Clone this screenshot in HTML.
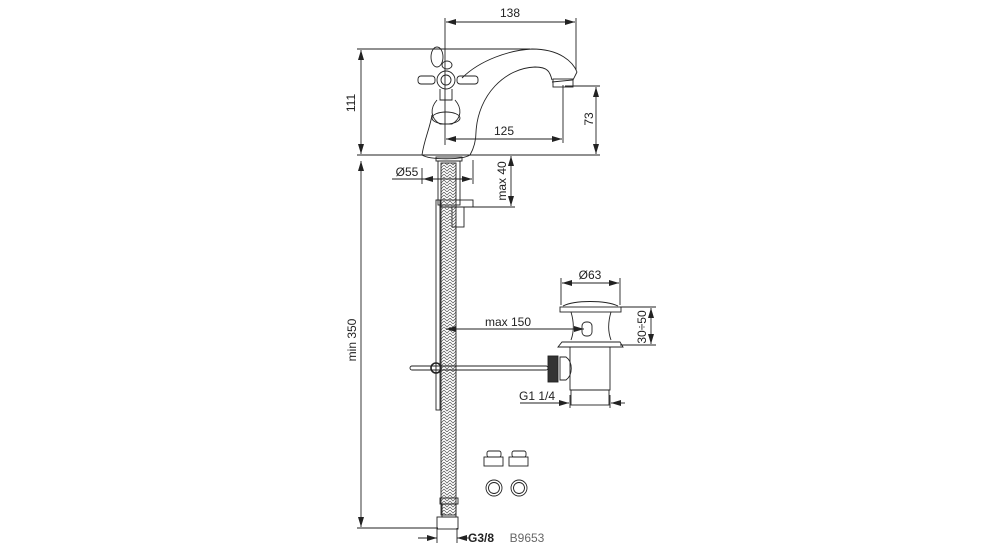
<!DOCTYPE html>
<html><head><meta charset="utf-8"><style>
html,body{margin:0;padding:0;background:#fff;width:1000px;height:550px;overflow:hidden}
text{font-family:"Liberation Sans",sans-serif;font-size:12px;fill:#222}
</style></head><body>
<svg width="1000" height="550" viewBox="0 0 1000 550" xmlns="http://www.w3.org/2000/svg">
<defs>
<marker id="a" viewBox="0 0 10 6" refX="10" refY="3" markerWidth="10" markerHeight="6" orient="auto-start-reverse" markerUnits="userSpaceOnUse"><path d="M0,0 L10,3 L0,6 z" fill="#222"/></marker>
<pattern id="br" width="6" height="6" patternUnits="userSpaceOnUse"><path d="M0,0 L3,3 L6,0 M0,3 L3,6 L6,3" stroke="#555" stroke-width="0.7" fill="none"/></pattern>
</defs>
<g stroke="#222" stroke-width="0.9" fill="none">
<line x1="357" y1="49" x2="530" y2="49"/>
<line x1="357" y1="155" x2="600" y2="155"/>
<line x1="361" y1="50" x2="361" y2="154" marker-start="url(#a)" marker-end="url(#a)"/>
<line x1="445" y1="18" x2="445" y2="145"/>
<line x1="576" y1="18" x2="576" y2="70"/>
<line x1="446" y1="22" x2="575" y2="22" marker-start="url(#a)" marker-end="url(#a)"/>
<line x1="563" y1="85" x2="563" y2="143"/>
<line x1="446" y1="139" x2="562" y2="139" marker-start="url(#a)" marker-end="url(#a)"/>
<line x1="565" y1="86" x2="600" y2="86"/>
<line x1="596" y1="87" x2="596" y2="154" marker-start="url(#a)" marker-end="url(#a)"/>
<path d="M422,155 C424,140 430,128 432,115"/>
<path d="M470,155 C474,148 476,140 476,132 C478,95 505,68 535,67 C548,67 550,72 552,80"/>
<path d="M462,78 C480,60 510,50 532,49 C560,49 573,62 577,72"/>
<path d="M577,72 L573,80 L552,82"/>
<rect x="553" y="79" width="20" height="8"/>
<path d="M422,155 C430,160 462,160 470,155"/>
<ellipse cx="437" cy="57" rx="6" ry="10"/>
<ellipse cx="447" cy="65" rx="5" ry="4"/>
<circle cx="446" cy="80" r="9"/><circle cx="446" cy="80" r="5"/>
<rect x="418" y="76" width="17" height="8" rx="3"/><rect x="457" y="76" width="21" height="8" rx="3"/>
<path d="M440,89 L440,100 L452,100 L452,89"/>
<path d="M437,100 C430,108 430,118 440,124 L452,124 C462,118 462,108 455,100"/>
<ellipse cx="446" cy="118" rx="14" ry="6"/>
<rect x="436" y="157" width="26" height="4"/>
<rect x="438" y="161" width="22" height="44"/>
<line x1="392" y1="179" x2="423" y2="179"/>
<line x1="423" y1="179" x2="472" y2="179" marker-start="url(#a)" marker-end="url(#a)"/>
<line x1="422" y1="168" x2="422" y2="184"/><line x1="473" y1="160" x2="473" y2="184"/>
<line x1="511" y1="156" x2="511" y2="206" marker-start="url(#a)" marker-end="url(#a)"/>
<line x1="440" y1="207" x2="515" y2="207"/>
<rect x="440" y="200" width="33" height="7"/>
<rect x="452" y="207" width="12" height="20"/>
<rect x="441" y="163" width="15" height="352" fill="url(#br)"/>
<rect x="436" y="200" width="4" height="210"/>
<rect x="440" y="498" width="18" height="6"/>
<rect x="442" y="504" width="14" height="13"/>
<rect x="437" y="517" width="21" height="12"/>
<line x1="361" y1="161" x2="361" y2="527" marker-start="url(#a)" marker-end="url(#a)"/>
<line x1="357" y1="528" x2="438" y2="528"/>
<line x1="418" y1="538" x2="437" y2="538" marker-end="url(#a)"/>
<line x1="470" y1="538" x2="457" y2="538" marker-end="url(#a)"/>
<line x1="437" y1="528" x2="437" y2="543"/><line x1="457" y1="528" x2="457" y2="543"/>
<line x1="561" y1="278" x2="561" y2="305"/><line x1="620" y1="278" x2="620" y2="305"/>
<line x1="562" y1="283" x2="619" y2="283" marker-start="url(#a)" marker-end="url(#a)"/>
<path d="M563,306 C575,300 605,300 618,306"/>
<rect x="560" y="307" width="61" height="5"/>
<path d="M571,312 C574,322 574,332 571,340 M611,312 C608,322 608,332 611,340"/>
<rect x="582" y="322" width="10" height="14" rx="4"/>
<line x1="446" y1="329" x2="584" y2="329" marker-start="url(#a)" marker-end="url(#a)"/>
<path d="M558,347 L562,342 L620,342 L623,347 Z"/>
<line x1="620" y1="307" x2="656" y2="307"/><line x1="620" y1="345" x2="656" y2="345"/>
<line x1="651" y1="308" x2="651" y2="344" marker-start="url(#a)" marker-end="url(#a)"/>
<rect x="570" y="347" width="40" height="43"/>
<rect x="571" y="390" width="38" height="15"/>
<path d="M560,357 L566,357 C573,362 573,375 566,380 L560,380 Z"/>
<rect x="548" y="356" width="10" height="26" fill="#333"/>
<rect x="410" y="366" width="138" height="4" rx="2"/>
<circle cx="436" cy="368" r="5" stroke-width="1.6"/>
<line x1="520" y1="403" x2="569" y2="403" marker-end="url(#a)"/>
<line x1="625" y1="403" x2="611" y2="403" marker-end="url(#a)"/>
<line x1="570" y1="395" x2="570" y2="408"/><line x1="610" y1="395" x2="610" y2="408"/>
<rect x="487" y="451" width="14" height="6" rx="2"/><rect x="484" y="457" width="19" height="9"/>
<rect x="512" y="451" width="14" height="6" rx="2"/><rect x="509" y="457" width="19" height="9"/>
<circle cx="494" cy="488" r="8"/><circle cx="494" cy="488" r="5.5"/>
<circle cx="519" cy="488" r="8"/><circle cx="519" cy="488" r="5.5"/>
</g>
<text x="510" y="17" text-anchor="middle">138</text>
<text x="504" y="135" text-anchor="middle">125</text>
<text transform="translate(355,103) rotate(-90)" text-anchor="middle">111</text>
<text transform="translate(593,119) rotate(-90)" text-anchor="middle">73</text>
<text x="407" y="176" text-anchor="middle">Ø55</text>
<text transform="translate(506,181) rotate(-90)" text-anchor="middle">max 40</text>
<text transform="translate(356,340) rotate(-90)" text-anchor="middle">min 350</text>
<text x="590" y="279" text-anchor="middle">Ø63</text>
<text x="508" y="326" text-anchor="middle">max 150</text>
<text transform="translate(646,327) rotate(-90)" text-anchor="middle">30÷50</text>
<text x="537" y="400" text-anchor="middle">G1 1/4</text>
<text x="481" y="542" text-anchor="middle" style="font-weight:bold">G3/8</text>
<text x="527" y="542" text-anchor="middle" style="fill:#666">B9653</text>
</svg>
</body></html>
